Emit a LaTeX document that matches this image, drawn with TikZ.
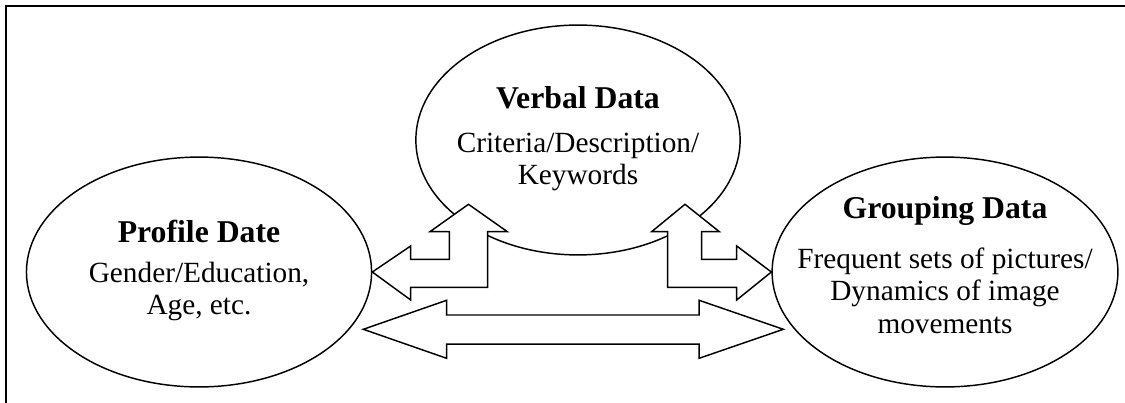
\documentclass[tikz,border=0pt]{standalone}
\usepackage{fontspec}
\setmainfont{Liberation Serif}
\usetikzlibrary{shapes.geometric}

\newcommand\hdr[1]{{\fontsize{13}{15}\selectfont\bfseries #1}}

\begin{document}
\begin{tikzpicture}[
  line join=miter,
  blob/.style={draw, ellipse, line width=0.6pt, minimum height=3.31cm, inner sep=0pt},
  txt/.style={align=center, font=\fontsize{12}{13.4}\selectfont, inner sep=0pt},
  fat/.style={draw, line width=0.6pt, fill=white}
]
\useasboundingbox (0,0) rectangle (16.2,-5.803);

% open frame: only the top and left rules are visible
\draw[line width=1pt] (0.086,-5.803) -- (0.086,-0.086) -- (16.2,-0.086);

\node[blob, minimum width=4.97cm] (profile)  at (2.866,-3.917) {};
\node[blob, minimum width=4.67cm] (verbal)   at (8.323,-2.016) {};
\node[blob, minimum width=4.98cm] (grouping) at (13.608,-3.917) {};

\node[txt, yshift=0.02cm] (profileT) at (profile) {\hdr{Profile Date}\\[3pt]Gender/Education,\\Age, etc.};
\node[txt, yshift=0.02cm] (verbalT) at (verbal) {\hdr{Verbal Data}\\[4.6pt]Criteria/Description/\\Keywords};
\node[txt, yshift=0.1cm] (groupingT) at (grouping) {\hdr{Grouping Data}\\[7pt]Frequent sets of pictures/\\Dynamics of image\\movements};

% block arrows, filled so they sit on top of the ellipse outlines
\draw[fat] (profile.east) -- (5.914,-3.542) -- (5.914,-3.734) -- (6.470,-3.734)
  -- (6.470,-3.336) -- (6.192,-3.336) -- (6.746,-2.942) -- (7.305,-3.336)
  -- (7.023,-3.336) -- (7.023,-4.137) -- (5.914,-4.137) -- (5.914,-4.320) -- cycle;

\draw[fat] (grouping.west) -- (10.608,-4.320) -- (10.608,-4.137) -- (9.615,-4.137)
  -- (9.615,-3.336) -- (9.384,-3.336) -- (9.864,-2.942) -- (10.358,-3.336)
  -- (10.104,-3.336) -- (10.104,-3.734) -- (10.608,-3.734) -- (10.608,-3.542) -- cycle;

\draw[fat] (5.232,-4.742) -- (6.432,-4.324) -- (6.432,-4.536) -- (10.066,-4.536)
  -- (10.066,-4.324) -- (11.280,-4.742) -- (10.066,-5.160) -- (10.066,-4.954)
  -- (6.432,-4.954) -- (6.432,-5.160) -- cycle;
\end{tikzpicture}
\end{document}
